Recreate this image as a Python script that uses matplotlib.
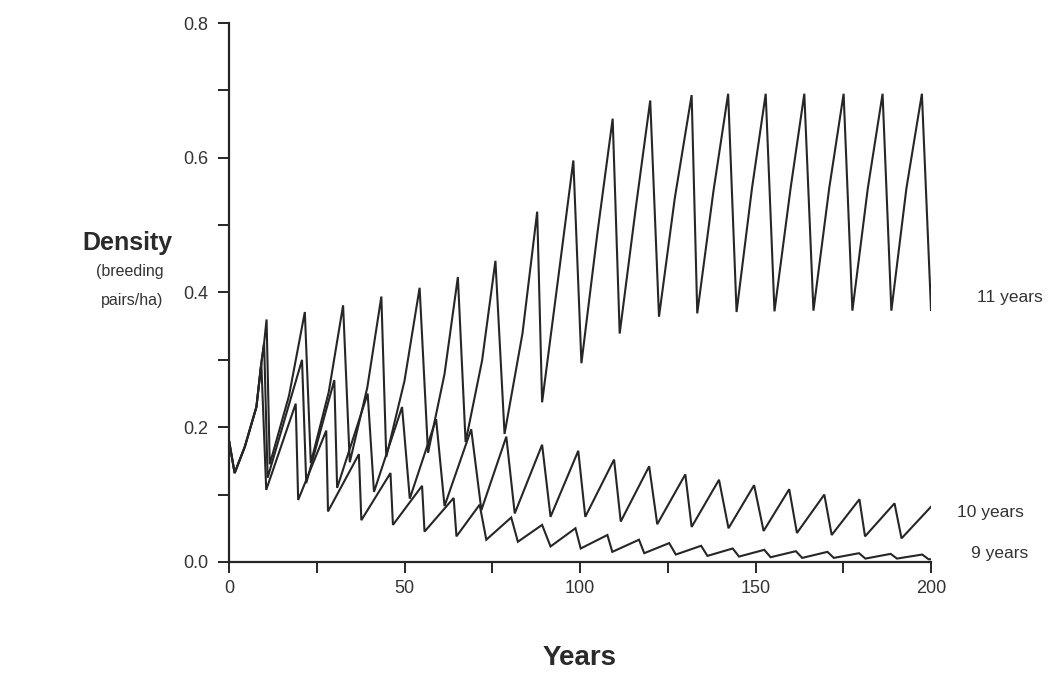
import matplotlib.pyplot as plt

plt.rcParams['font.family'] = ['Liberation Sans', 'DejaVu Sans']

# vertices of each traced curve (year, density in breeding pairs/ha)
yrs_11 = [0, 1.6, 4.5, 7.8, 9.2, 10.0, 10.7, 11.6,
          17.1, 21.6, 23.3,
          28.4, 32.5, 34.4,
          39.4, 43.4, 44.8,
          50.0, 54.3, 56.7,
          61.4, 65.2, 67.4,
          72.1, 75.9, 78.5,
          83.6, 87.8, 89.2,
          94, 98.1, 100.4,
          105, 109.3, 111.3,
          116, 120.0, 122.5,
          127, 131.8, 133.4,
          138, 142.2, 144.6,
          149, 152.9, 155.4,
          160, 163.9, 166.5,
          171, 175.1, 177.6,
          182, 186.2, 188.7,
          193, 197.4, 200]
dens_11 = [0.18, 0.132, 0.171, 0.23, 0.295, 0.325, 0.36, 0.145,
           0.247, 0.371, 0.147,
           0.252, 0.381, 0.148,
           0.259, 0.394, 0.156,
           0.269, 0.407, 0.162,
           0.279, 0.423, 0.178,
           0.299, 0.447, 0.19,
           0.339, 0.52, 0.237,
           0.43, 0.596, 0.295,
           0.49, 0.658, 0.339,
           0.53, 0.685, 0.364,
           0.54, 0.693, 0.369,
           0.55, 0.695, 0.371,
           0.555, 0.695, 0.372,
           0.555, 0.695, 0.373,
           0.555, 0.695, 0.373,
           0.555, 0.695, 0.373,
           0.555, 0.695, 0.374]

yrs_10 = [0, 1.6, 4.5, 7.8, 9.2, 10.0, 11.0,
          20.8, 22.0, 30.0, 30.8, 39.5, 41.3, 49.3, 51.5, 59.0, 61.4,
          69.0, 71.9, 79.0, 81.4, 89.2, 91.6, 99.5, 101.5, 109.7, 111.6,
          119.7, 122, 130, 131.8, 139.6, 142.3, 149.6, 152.3,
          159.6, 161.8, 169.6, 171.7, 179.6, 181.2, 189.6, 191.6, 200]
dens_10 = [0.18, 0.132, 0.171, 0.23, 0.295, 0.325, 0.125,
           0.30, 0.117, 0.27, 0.11, 0.25, 0.104, 0.23, 0.094, 0.212, 0.083,
           0.197, 0.077, 0.186, 0.072, 0.174, 0.067, 0.165, 0.067, 0.152, 0.06,
           0.142, 0.056, 0.13, 0.052, 0.122, 0.05, 0.114, 0.046,
           0.108, 0.043, 0.10, 0.04, 0.093, 0.038, 0.087, 0.035, 0.082]

yrs_9 = [0, 1.6, 4.5, 7.8, 9.2, 10.6,
         19.0, 19.7, 27.7, 28.2, 37.0, 37.7, 46.0, 46.7, 55.0, 55.7,
         64.0, 64.8, 71.4, 73.3, 80.4, 82.3, 89.2, 91.6, 98.7, 100.2,
         107.8, 109.2, 116.8, 118.3, 125.4, 127.3, 134.5, 136.3,
         143.5, 145.3, 152.5, 154.3, 161.5, 163.3, 170.5, 172.3,
         179.5, 181.3, 188.5, 190.3, 197.5, 199.3, 200]
dens_9 = [0.18, 0.132, 0.171, 0.23, 0.295, 0.107,
          0.235, 0.092, 0.195, 0.075, 0.16, 0.062, 0.132, 0.055, 0.113, 0.045,
          0.095, 0.038, 0.085, 0.033, 0.066, 0.03, 0.055, 0.023, 0.05, 0.02,
          0.04, 0.015, 0.033, 0.013, 0.028, 0.011, 0.024, 0.009,
          0.02, 0.008, 0.018, 0.007, 0.016, 0.006, 0.015, 0.006,
          0.013, 0.005, 0.012, 0.005, 0.011, 0.004, 0.004]

series = [(yrs_11, dens_11, '11 years', 0.392, 213.0),
          (yrs_10, dens_10, '10 years', 0.074, 207.5),
          (yrs_9, dens_9, '9 years', 0.013, 211.5)]

x_ticks = [0, 50, 100, 150, 200]
y_ticks = [0.0, 0.2, 0.4, 0.6, 0.8]

ink = '#262626'

fig = plt.figure(figsize=(10.52, 6.73), dpi=100)
ax = fig.add_axes([0.2177, 0.165, 0.6673, 0.8008])

for yrs, dens, name, ly, lx in series:
    ax.plot(yrs, dens, color=ink, lw=1.5, solid_joinstyle='miter')
    ax.text(lx, ly, name, fontsize=12.5, color='#333333', va='center',
            ha='left', clip_on=False)

ax.set_xlim(0, 200)
ax.set_ylim(0, 0.8)
ax.set_xticks(x_ticks)
ax.set_xticks([25, 75, 125, 175], minor=True)
ax.set_yticks(y_ticks)
ax.set_yticks([0.1, 0.3, 0.5, 0.7], minor=True)
ax.set_yticklabels([f'{v:.1f}' for v in y_ticks])

for s in ['top', 'right']:
    ax.spines[s].set_visible(False)
for s in ['left', 'bottom']:
    ax.spines[s].set_linewidth(1.6)
    ax.spines[s].set_color(ink)
ax.tick_params(which='both', direction='out', length=8, width=1.4, color=ink)
ax.tick_params(axis='y', labelsize=13, labelcolor='#333333', pad=7)
ax.tick_params(axis='x', labelsize=13, labelcolor='#333333', pad=5)

fig.text(0.121, 0.639, 'Density', fontsize=18, fontweight='bold',
         color='#2a2a2a', ha='center', va='center')
fig.text(0.123, 0.596, '(breeding', fontsize=11.5, color='#333333',
         ha='center', va='center')
fig.text(0.126, 0.554, 'pairs/ha)', fontsize=11.5, color='#333333',
         ha='center', va='center')
fig.text(0.551, 0.022, 'Years', fontsize=20, fontweight='bold',
         color='#2a2a2a', ha='center', va='center')

fig.savefig('out.png', dpi=100)
